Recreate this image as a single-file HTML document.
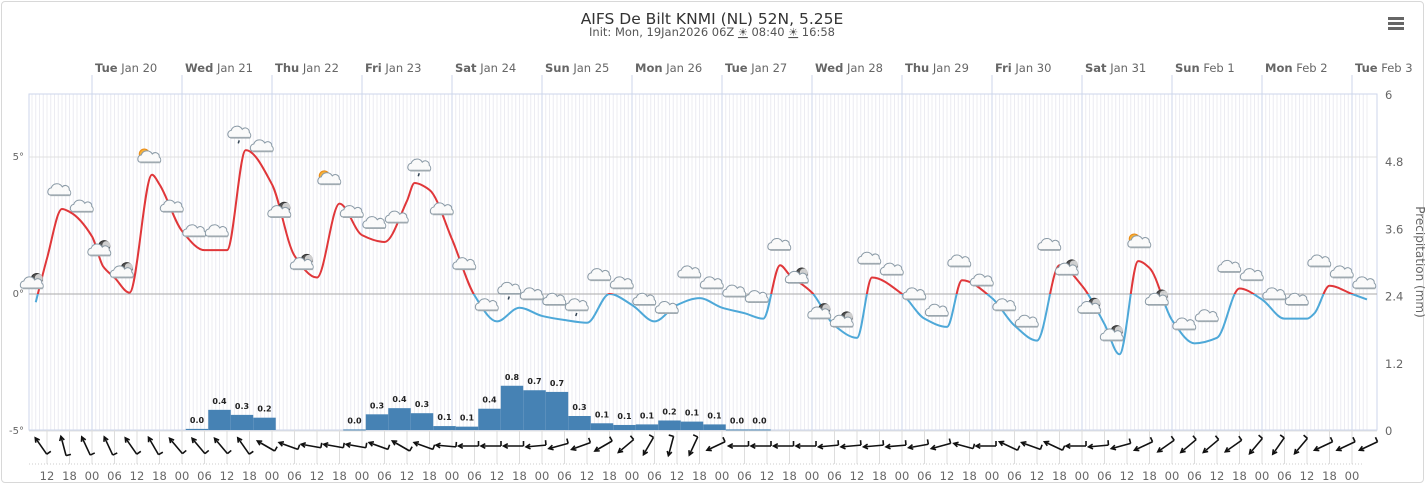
<!DOCTYPE html>
<html><head><meta charset="utf-8">
<style>
html,body{margin:0;padding:0;background:#fff;}
body{width:1425px;height:484px;overflow:hidden;font-family:"Liberation Sans","DejaVu Sans",sans-serif;}
#frame{position:absolute;left:1px;top:1px;width:1421px;height:480px;border:1px solid #d8d8d8;border-radius:4px;}
svg text{font-family:"DejaVu Sans","Liberation Sans",sans-serif;}
</style></head>
<body>
<div id="frame"></div>
<svg id="chart" width="1425" height="484" style="position:absolute;left:0;top:0">
  <text x="712" y="24" text-anchor="middle" font-size="15.5" fill="#333">AIFS De Bilt KNMI (NL) 52N, 5.25E</text>
  <text x="712" y="36" text-anchor="middle" font-size="11.5" fill="#555">Init: Mon, 19Jan2026 06Z <tspan font-size="11" text-decoration="underline">☀</tspan> 08:40 <tspan font-size="11" text-decoration="underline">☀</tspan> 16:58</text>
  <g>
    <rect x="1388" y="17" width="16" height="3" fill="#666"/>
    <rect x="1388" y="22" width="16" height="3" fill="#666"/>
    <rect x="1388" y="27" width="16" height="3" fill="#666"/>
  </g>
  <g id="grid"></g>
  <g id="marks"></g>
</svg>
<script>
// ---- data ----
const tempTimes = [9,12,16,18,24,27,30,34,40,42,48,54,60,65,72,78,84,90,96,102,108,110,114,120,126,132,138,144,150,156,162,168,174,180,186,192,198,203,207.5,210,216,222,228,232,240,246,252,256,264,270,276,282,288,294,298,303,306,312,318,324,330,336,342,348,350,354,360,364];
const tempValues = [-0.3,1.3,3.1,3.0,2.1,1.0,0.6,0.05,4.35,4.0,2.3,1.6,1.6,5.25,4.0,1.4,0.6,3.3,2.15,1.9,3.4,4.05,3.8,2.0,-0.05,-1.0,-0.5,-0.8,-0.95,-1.05,0.0,-0.4,-1.0,-0.4,-0.15,-0.5,-0.7,-0.9,1.05,0.7,0.05,-1.15,-1.6,0.6,0.0,-0.9,-1.2,0.5,-0.15,-1.15,-1.7,1.05,0.3,-1.1,-2.2,1.2,0.95,-0.95,-1.8,-1.6,0.2,-0.2,-0.9,-0.9,-0.7,0.3,0.0,-0.2];
const precipStart = 52;
const precipValues = [0.02,0.36,0.27,0.22,null,null,null,0.01,0.28,0.39,0.30,0.07,0.06,0.38,0.79,0.71,0.68,0.25,0.12,0.09,0.10,0.17,0.15,0.10,0.01,0.01];
const dayLabels = [["Tue","Jan 20"],["Wed","Jan 21"],["Thu","Jan 22"],["Fri","Jan 23"],["Sat","Jan 24"],["Sun","Jan 25"],["Mon","Jan 26"],["Tue","Jan 27"],["Wed","Jan 28"],["Thu","Jan 29"],["Fri","Jan 30"],["Sat","Jan 31"],["Sun","Feb 1"],["Mon","Feb 2"],["Tue","Feb 3"]];
const tempTicks = [5,0,-5];
const precipTicks = [6,4.8,3.6,2.4,1.2,0];
const iconTypes = ["m","c","c","m","m","s","c","c","c","r","c","m","m","s","c","c","c","r","c","c","c","r","c","c","r","c","c","c","c","c","c","c","c","c","m","m","m","c","c","c","c","c","c","c","c","c","m","m","m","s","m","c","c","c","c","c","c","c","c","c"];
const iconLevels = [0.4,3.8,3.2,1.6,0.8,5.0,3.2,2.3,2.3,5.9,5.4,3.0,1.1,4.2,3.0,2.6,2.8,4.7,3.1,1.1,-0.4,0.2,0,-0.2,-0.4,0.7,0.4,-0.2,-0.5,0.8,0.4,0.1,-0.1,1.8,0.6,-0.7,-1.0,1.3,0.9,0,-0.6,1.2,0.5,-0.4,-1.0,1.8,0.9,-0.5,-1.5,1.9,-0.2,-1.1,-0.8,1.0,0.7,0,-0.2,1.2,0.8,0.4];
const windDirs = [-125,-105,-115,-115,-125,-120,-130,-130,-130,-125,-150,-160,-170,-170,-170,-160,-150,-160,-175,180,180,180,175,165,160,150,140,120,105,115,155,180,180,180,180,175,175,175,175,170,165,-165,180,-155,-160,-155,180,175,165,155,145,140,140,145,130,125,130,155,155,155];

// ---- axes ----
const X0=29, X1=1377, Y0=94, Y1=430;
const xT = t => 92 + (t-24)*3.75;
const yTemp = v => 294 - v*27.4;
const yPrec = v => 430 - v*56;
const NS="http://www.w3.org/2000/svg";
const grid=document.getElementById('grid'), marks=document.getElementById('marks');
function mk(tag,attrs,parent){const e=document.createElementNS(NS,tag);for(const k in attrs)e.setAttribute(k,attrs[k]);(parent||marks).appendChild(e);return e;}

for(let t=8;t<=364;t++){const x=xT(t);if(x<=X0||x>=X1)continue;
  const l=mk('line',{x1:x,x2:x,y1:Y0,y2:Y1,stroke:'#ececf2','stroke-width':1},grid);
  
  }
const border=mk('rect',{x:X0,y:Y0,width:X1-X0,height:Y1-Y0,fill:'none',stroke:'#ccd6eb'},grid);


dayLabels.forEach((d,i)=>{const x=xT(24+24*i);
  const l=mk('line',{x1:x,x2:x,y1:75,y2:Y1,stroke:'#ccd6eb'},grid);
  
  
  const tx=mk('text',{x:x+3,y:72,'font-size':'11.5',fill:'#666'},grid);
  
  
  tx.innerHTML='<tspan font-weight="bold">'+d[0]+'</tspan> '+d[1];});
tempTicks.forEach(v=>{const y=yTemp(v);
  const l=mk('line',{x1:X0,x2:X1,y1:y,y2:y,stroke:v===0?'#aaa':'#e0e0e0'},grid);
  
  
  const tx=mk('text',{x:24,y:y+3,'text-anchor':'end','font-size':'10',fill:'#666'},grid);
  
  
  tx.textContent=v+'°';});
precipTicks.forEach(v=>{const y=yPrec(v);
  const tx=mk('text',{x:1385,y:y+5,'font-size':'11.5',fill:'#666'},grid);
  
  
  tx.textContent=v;});
const yt=mk('text',{x:1416,y:262,'text-anchor':'middle','font-size':'12',fill:'#666',transform:'rotate(90 1416 262)'},grid);


yt.textContent='Precipitation (mm)';

precipValues.forEach((v,i)=>{if(v===null)return;const c=xT(precipStart+6*i);
  const y=yPrec(v);
  const r=mk('rect',{x:c-11.25,y:y,width:22.5,height:Math.max(430-y,1),fill:'#4682b4'});
  
  
  const tx=mk('text',{x:c,y:y-6,'text-anchor':'middle','font-size':'8',fill:'#222','font-weight':'bold'});
  
  
  tx.textContent=v.toFixed(1);});

// temperature line (monotone cubic)
const pts=tempTimes.map((t,i)=>[xT(t),yTemp(tempValues[i])]);
const n=pts.length, dk=[], m=[];
for(let i=0;i<n-1;i++)dk.push((pts[i+1][1]-pts[i][1])/(pts[i+1][0]-pts[i][0]));
m[0]=dk[0];m[n-1]=dk[n-2];
for(let i=1;i<n-1;i++){ if(dk[i-1]*dk[i]<=0) m[i]=0; else { const h0=pts[i][0]-pts[i-1][0],h1=pts[i+1][0]-pts[i][0];
  const w1=2*h1+h0,w2=h1+2*h0; m[i]=(w1+w2)/(w1/dk[i-1]+w2/dk[i]); } }
let d='M'+pts[0][0]+','+pts[0][1];
for(let i=0;i<n-1;i++){const h=(pts[i+1][0]-pts[i][0])/3;
  d+=' C'+(pts[i][0]+h)+','+(pts[i][1]+m[i]*h)+' '+(pts[i+1][0]-h)+','+(pts[i+1][1]-m[i+1]*h)+' '+pts[i+1][0]+','+pts[i+1][1];}
const defs=mk('defs',{});
const ca=mk('clipPath',{id:'above'},defs);mk('rect',{x:0,y:0,width:1425,height:yTemp(0)},ca);
const cb=mk('clipPath',{id:'below'},defs);mk('rect',{x:0,y:yTemp(0),width:1425,height:300},cb);
const lr=mk('path',{d:d,fill:'none',stroke:'#e0373a','stroke-width':2,'clip-path':'url(#above)'});


const lb=mk('path',{d:d,fill:'none',stroke:'#4ea8d8','stroke-width':2,'clip-path':'url(#below)'});



function cloud(g,x,y){mk('path',{d:`M${x-11},${y+5} a4,4 0 0 1 2,-7 a6,6 0 0 1 11,-1 a4,4 0 0 1 7,3 a4,4 0 0 1 1,5 z`,fill:'#fafafa',stroke:'#8a9aa6','stroke-width':1},g);
  mk('line',{x1:x-10,x2:x+10,y1:y+5.5,y2:y+5.5,stroke:'#a0aab0','stroke-width':1.5},g);}
iconTypes.forEach((tp,i)=>{const x=xT(9+6*i),y=yTemp(iconLevels[i]);
  const g=mk('g',{});
  
  
  if(tp==='s'){mk('circle',{cx:x-4,cy:y-3,r:5,fill:'#f6b13a',stroke:'#e98b16'},g);}
  if(tp==='m'){mk('circle',{cx:x+1,cy:y-4,r:5.5,fill:'#555',stroke:'#333'},g);mk('circle',{cx:x+3,cy:y-5,r:4,fill:'#cfcfcf'},g);}
  cloud(g,tp==='m'?x-3:x+2,y);
  if(tp==='r'){mk('line',{x1:x+1,x2:x,y1:y+8,y2:y+11,stroke:'#345','stroke-width':1.5},g);}
});

for(let k=0;k<=59;k++){const cx=41+22.5*k,cy=446;const a=windDirs[k]*Math.PI/180;
  const dx=Math.cos(a)*10,dy=Math.sin(a)*10;
  const g=mk('g',{stroke:'#111','stroke-width':1.6,fill:'none'});
  
  
  const hx=cx+dx,hy=cy+dy,tx=cx-dx,ty=cy-dy;
  mk('line',{x1:tx,y1:ty,x2:hx,y2:hy},g);
  const ah=3.5;
  mk('path',{d:`M${hx-Math.cos(a-0.5)*ah*1.4},${hy-Math.sin(a-0.5)*ah*1.4} L${hx},${hy} L${hx-Math.cos(a+0.5)*ah*1.4},${hy-Math.sin(a+0.5)*ah*1.4}`},g);
  mk('line',{x1:tx,y1:ty,x2:tx+Math.cos(a+Math.PI/2)*5,y2:ty+Math.sin(a+Math.PI/2)*5},g);
}
for(let k=0;k<=59;k++){const x=xT(12+6*k);if(x>1360)break;
  const l=mk('line',{x1:x,x2:x,y1:Y1,y2:464,stroke:'#ddd'},grid);
  
  
  const tx=mk('text',{x:x,y:480,'text-anchor':'middle','font-size':'11.5',fill:'#666'});
  
  
  tx.textContent=String((12+6*k)%24).padStart(2,'0');}
const bl=mk('line',{x1:X0,x2:1362,y1:464,y2:464,stroke:'#ccc','stroke-dasharray':'1 2'},grid);


</script>
</body></html>
